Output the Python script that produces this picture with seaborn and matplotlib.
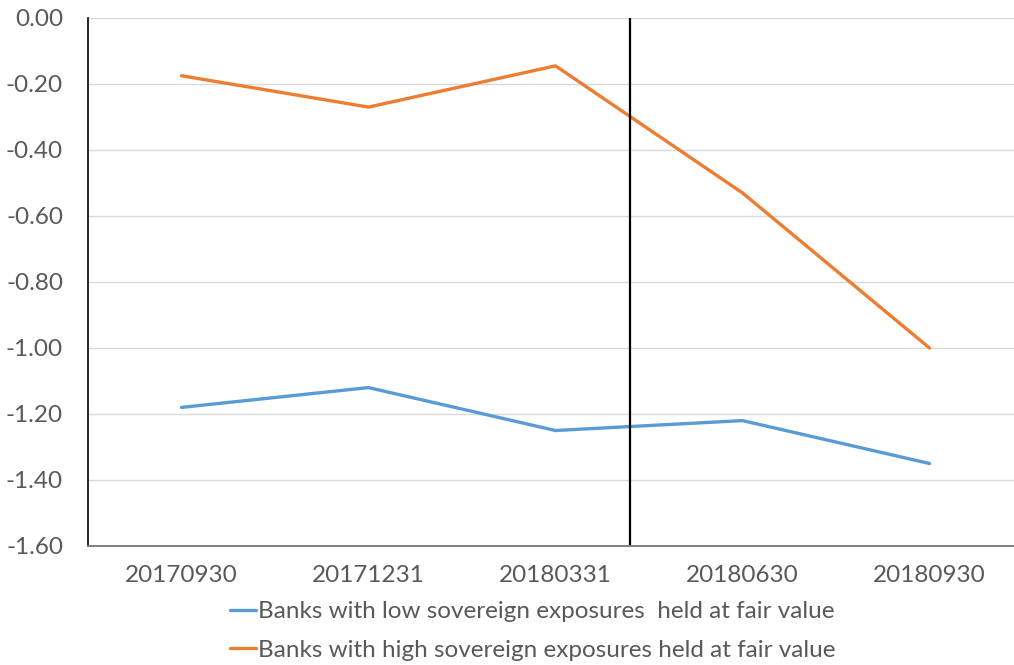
import matplotlib
matplotlib.use("Agg")
import matplotlib.pyplot as plt
import seaborn as sns
import pandas as pd
from matplotlib.lines import Line2D

# Reporting dates
dates = ["20170930", "20171231", "20180331", "20180630", "20180930"]
# Series values
low_fv = [-1.18, -1.12, -1.25, -1.22, -1.35]
high_fv = [-0.175, -0.27, -0.145, -0.53, -1.0]
series_names = [
    "Banks with low sovereign exposures  held at fair value",
    "Banks with high sovereign exposures held at fair value",
]
y_ticks = [0.0, -0.2, -0.4, -0.6, -0.8, -1.0, -1.2, -1.4, -1.6]
event_pos = 2.4  # vertical marker between 20180331 and 20180630

sns.set_theme(style="white")
plt.rcParams["font.family"] = ["Lato", "DejaVu Sans"]

df = pd.DataFrame({
    "date": dates * 2,
    "value": low_fv + high_fv,
    "series": [series_names[0]] * len(dates) + [series_names[1]] * len(dates),
})

colors = {series_names[0]: "#5b9bd5", series_names[1]: "#ed7d31"}

fig = plt.figure(figsize=(10.14, 6.65), dpi=100)
ax = fig.add_axes([88 / 1014, 1 - 546 / 665, (1023 - 88) / 1014, (546 - 18) / 665])

sns.lineplot(data=df, x="date", y="value", hue="series", palette=colors,
             linewidth=2.4, ax=ax, legend=False, sort=False)

ax.set_xlim(-0.5, 4.5)
ax.set_ylim(-1.6, 0.0)
ax.set_yticks(y_ticks)
ax.set_yticklabels([f"{v:.2f}" for v in y_ticks])
ax.yaxis.grid(True, color="#d9d9d9", linewidth=1)
ax.set_axisbelow(True)
ax.axvline(event_pos, color="black", linewidth=1.6)

for s in ["top", "right"]:
    ax.spines[s].set_visible(False)
ax.spines["left"].set_color("black")
ax.spines["left"].set_linewidth(1.2)
ax.spines["bottom"].set_color("#7f7f7f")
ax.spines["bottom"].set_linewidth(1.4)

ax.tick_params(axis="both", labelsize=17.5, colors="#595959", length=0)
ax.tick_params(axis="y", pad=18)
ax.tick_params(axis="x", pad=14)
ax.set_xlabel("")
ax.set_ylabel("")

handles = [Line2D([0], [0], color=colors[n], linewidth=2.4) for n in series_names]
fig.legend(handles, series_names, loc="upper left", bbox_to_anchor=(230 / 1014, 1 - 601 / 665),
           frameon=False, fontsize=17.5, labelcolor="#595959", handlelength=1.05,
           handletextpad=0.1, labelspacing=0.72, borderaxespad=0, borderpad=0)

fig.savefig("out.png", dpi=100)
